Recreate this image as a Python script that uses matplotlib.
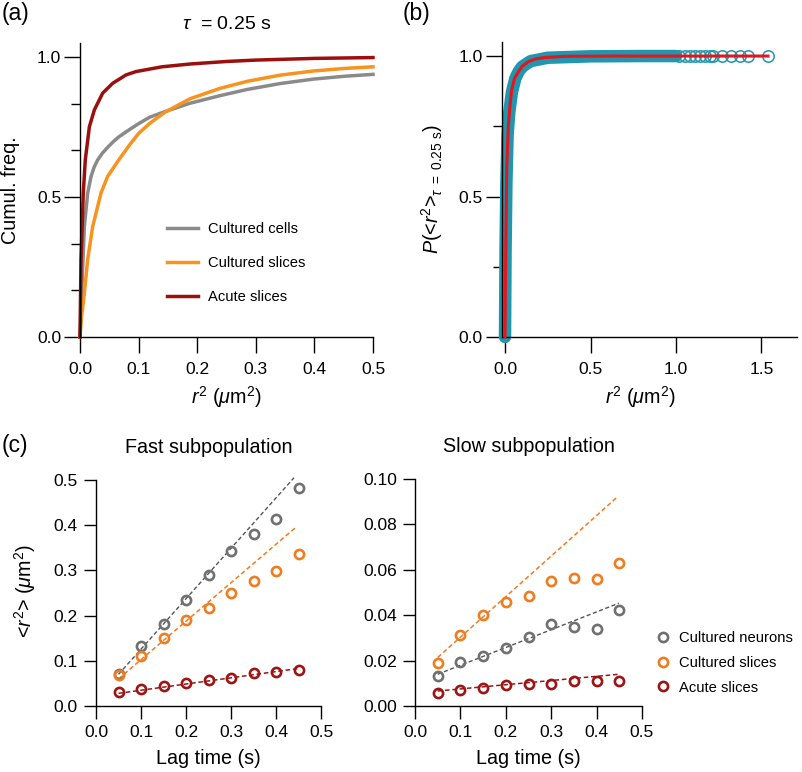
import numpy as np
import matplotlib
matplotlib.use('Agg')
import matplotlib.pyplot as plt
from matplotlib.ticker import MultipleLocator, FixedLocator, FormatStrFormatter
from matplotlib.lines import Line2D

plt.rcParams['font.family'] = ['Liberation Sans', 'DejaVu Sans']
plt.rcParams['mathtext.fontset'] = 'custom'
plt.rcParams['mathtext.rm'] = 'Liberation Sans'
plt.rcParams['mathtext.it'] = 'Liberation Sans:italic'
plt.rcParams['mathtext.bf'] = 'Liberation Sans:bold'
plt.rcParams['axes.linewidth'] = 1.0

# (a) cumulative distributions of r^2 at tau = 0.25 s
r2_cells = [0, 0.0028, 0.0074, 0.0131, 0.0188, 0.024, 0.030, 0.038, 0.047, 0.057, 0.067,
            0.0853, 0.1, 0.119, 0.145, 0.188, 0.239, 0.285, 0.341, 0.398, 0.45, 0.5]
cdf_cells = [0, 0.156, 0.394, 0.514, 0.573, 0.606, 0.632, 0.656, 0.677, 0.698, 0.716,
             0.742, 0.762, 0.785, 0.805, 0.835, 0.862, 0.884, 0.905, 0.921, 0.931, 0.938]
r2_cslices = [0, 0.0025, 0.0074, 0.013, 0.0216, 0.0358, 0.047, 0.066, 0.0853, 0.1, 0.119,
              0.145, 0.188, 0.239, 0.285, 0.341, 0.398, 0.45, 0.5]
cdf_cslices = [0, 0.07, 0.156, 0.275, 0.394, 0.514, 0.573, 0.632, 0.688, 0.727, 0.763,
               0.803, 0.851, 0.888, 0.913, 0.935, 0.95, 0.959, 0.965]
r2_acute = [0, 0.0017, 0.0056, 0.009, 0.016, 0.0245, 0.0387, 0.0557, 0.0785, 0.0956,
            0.14, 0.188, 0.25, 0.3, 0.4, 0.5]
cdf_acute = [0, 0.275, 0.514, 0.632, 0.751, 0.811, 0.871, 0.906, 0.936, 0.948,
             0.965, 0.975, 0.984, 0.989, 0.995, 0.998]

# (b) measured CDF (band), isolated tail points and fit
r2_meas = [0.0, 0.003, 0.008, 0.015, 0.025, 0.04, 0.06, 0.08, 0.1, 0.15, 0.25, 0.5, 0.8, 1.0]
cdf_meas = [0.0, 0.3, 0.55, 0.72, 0.80, 0.87, 0.92, 0.945, 0.962, 0.982, 0.994, 0.999, 1.0, 1.0]
r2_tail = [1.02, 1.05, 1.08, 1.11, 1.14, 1.17, 1.2, 1.216, 1.269, 1.322, 1.374, 1.421, 1.538]
cdf_tail = [1.0, 1.0, 1.0, 1.0, 1.0, 1.0, 1.0, 1.0, 1.0, 1.0, 1.0, 1.0, 1.0]
r2_fit = [0.0, 0.004, 0.01, 0.019, 0.03, 0.039, 0.055, 0.078, 0.1, 0.136, 0.18, 0.234, 0.35, 0.64, 1.538]
cdf_fit = [0.0, 0.3, 0.6, 0.749, 0.83, 0.879, 0.92, 0.944, 0.963, 0.98, 0.99, 0.995, 0.999, 1.0, 1.0]

# (c) MSD vs lag time
lag = [0.05, 0.1, 0.15, 0.2, 0.25, 0.3, 0.35, 0.4, 0.45]
fast_neurons = [0.07, 0.132, 0.182, 0.234, 0.29, 0.343, 0.38, 0.414, 0.482]
fast_cslices = [0.068, 0.110, 0.151, 0.190, 0.216, 0.251, 0.276, 0.299, 0.336]
fast_acute = [0.030, 0.037, 0.044, 0.051, 0.058, 0.062, 0.073, 0.075, 0.079]
slow_neurons = [0.0133, 0.0192, 0.0222, 0.0256, 0.0303, 0.0362, 0.0347, 0.0338, 0.0425]
slow_cslices = [0.0189, 0.0313, 0.0402, 0.0458, 0.0484, 0.0549, 0.0564, 0.0558, 0.0632]
slow_acute = [0.0059, 0.0071, 0.0081, 0.0092, 0.0099, 0.0099, 0.0111, 0.0111, 0.0111]

fit_fast_neurons = ([0.05, 0.44], [0.07, 0.505])
fit_fast_cslices = ([0.05, 0.446], [0.06, 0.397])
fit_fast_acute = ([0.05, 0.45], [0.028, 0.083])
fit_slow_neurons = ([0.05, 0.449], [0.014, 0.0453])
fit_slow_cslices = ([0.05, 0.447], [0.0214, 0.0923])
fit_slow_acute = ([0.05, 0.45], [0.0066, 0.014])

GRAY_A, ORANGE_A, RED_A = '#8a8a8a', '#f7931e', '#9c0f0f'
GRAY_C, ORANGE_C, RED_C = '#707070', '#f07c20', '#9c1414'
TEAL, FITRED = '#2196ad', '#e3161e'

TICK_FS, LABEL_FS, LEG_FS = 12.5, 14.2, 10.6

W, H = 802, 772
fig = plt.figure(figsize=(W / 100, H / 100), dpi=100)


def px_axes(x0, y0, x1, y1):
    return fig.add_axes([x0 / W, 1 - y1 / H, (x1 - x0) / W, (y1 - y0) / H])


def style(ax, major_len=11.5, minor_len=6.5, xpad=6.5, ypad=2):
    for s in ['top', 'right']:
        ax.spines[s].set_visible(False)
    ax.tick_params(which='major', direction='out', length=major_len, width=1.0,
                   labelsize=TICK_FS)
    ax.tick_params(which='minor', direction='out', length=minor_len, width=1.0)
    ax.tick_params(axis='y', pad=ypad)
    ax.tick_params(axis='x', pad=xpad)


# ---- (a)
ax_a = px_axes(80, 43, 373, 337)
ax_a.plot(r2_cells, cdf_cells, color=GRAY_A, lw=2.5, label='Cultured cells', clip_on=False)
ax_a.plot(r2_cslices, cdf_cslices, color=ORANGE_A, lw=2.5, label='Cultured slices', clip_on=False)
ax_a.plot(r2_acute, cdf_acute, color=RED_A, lw=2.5, label='Acute slices', clip_on=False)
ax_a.set_xlim(0, 0.5)
ax_a.set_ylim(0, 1.05)
ax_a.xaxis.set_major_locator(MultipleLocator(0.1))
ax_a.yaxis.set_major_locator(FixedLocator([0.0, 0.5, 1.0]))
ax_a.yaxis.set_minor_locator(FixedLocator([1 / 6, 2 / 6, 4 / 6, 5 / 6]))
ax_a.yaxis.set_major_formatter(FormatStrFormatter('%.1f'))
ax_a.xaxis.set_major_formatter(FormatStrFormatter('%.1f'))
style(ax_a)
ax_a.set_ylabel('Cumul. freq.', fontsize=LABEL_FS)
ax_a.yaxis.set_label_coords(-0.205, 0.5)
ax_a.set_xlabel(r'$r^2$ ($\mu$m$^2$)', fontsize=LABEL_FS, va='top')
ax_a.xaxis.set_label_coords(0.5, -0.16)
ax_a.text(0.5, 1.048, r'$\tau$  = 0.25 s', transform=ax_a.transAxes,
          ha='center', va='baseline', fontsize=14)
ax_a.legend(loc='center left', bbox_to_anchor=(0.297, 0.252), frameon=False,
            fontsize=LEG_FS, handlelength=2.1, handletextpad=0.68, labelspacing=1.35,
            borderpad=0, borderaxespad=0)

# ---- (b)
ax_b = px_axes(501.6, 42, 797.4, 337)
ax_b.plot(r2_meas, cdf_meas, color=TEAL, lw=9, solid_capstyle='round',
          solid_joinstyle='round', zorder=2, clip_on=False)
ax_b.plot(r2_tail, cdf_tail, ls='none', marker='o', ms=8.2, mfc='none', mec=TEAL,
          mew=1.1, zorder=2, clip_on=False)
ax_b.plot(r2_fit, cdf_fit, color=FITRED, lw=2.2, zorder=3, clip_on=False)
ax_b.set_xlim(-0.02, 1.71)
ax_b.set_ylim(0, 1.05)
ax_b.xaxis.set_major_locator(MultipleLocator(0.5))
ax_b.yaxis.set_major_locator(FixedLocator([0.0, 0.5, 1.0]))
ax_b.yaxis.set_minor_locator(FixedLocator([0.25, 0.75]))
ax_b.yaxis.set_major_formatter(FormatStrFormatter('%.1f'))
ax_b.xaxis.set_major_formatter(FormatStrFormatter('%.1f'))
style(ax_b)
ax_b.set_ylabel(r'$P$(<$r^2$>$_{\tau\ =\ 0.25\ \mathrm{s}}$)', fontsize=LABEL_FS)
ax_b.yaxis.set_label_coords(-0.19, 0.5)
ax_b.set_xlabel(r'$r^2$ ($\mu$m$^2$)', fontsize=LABEL_FS, va='top')
ax_b.xaxis.set_label_coords(0.471, -0.16)

# ---- (c)
dash = (0, (3.0, 1.8))


def msd_panel(ax, neurons, cslices, acute, fits, ymax, ystep, title):
    (fxn, fyn), (fxc, fyc), (fxa, fya) = fits
    ax.plot(fxn, fyn, color='#555555', lw=1.0, ls=dash, zorder=2, clip_on=False)
    ax.plot(fxc, fyc, color=ORANGE_C, lw=1.1, ls=dash, zorder=2, clip_on=False)
    ax.plot(fxa, fya, color=RED_C, lw=1.1, ls=dash, zorder=2, clip_on=False)
    kw = dict(ls='none', marker='o', ms=6.6, mfc='none', mew=1.9, zorder=3, clip_on=False)
    ax.plot(lag, neurons, mec=GRAY_C, **kw)
    ax.plot(lag, cslices, mec=ORANGE_C, **kw)
    ax.plot(lag, acute, mec=RED_C, **kw)
    ax.set_xlim(0, 0.5)
    ax.set_ylim(0, ymax)
    ax.xaxis.set_major_locator(MultipleLocator(0.1))
    ax.yaxis.set_major_locator(MultipleLocator(ystep))
    ax.xaxis.set_major_formatter(FormatStrFormatter('%.1f'))
    style(ax, major_len=9, minor_len=5, xpad=5, ypad=4)
    ax.set_xlabel('Lag time (s)', fontsize=LABEL_FS, va='top')
    ax.xaxis.set_label_coords(0.5, -0.19)
    ax.text(0.5, 1.12, title, transform=ax.transAxes, ha='center', va='baseline',
            fontsize=LABEL_FS)


ax_c1 = px_axes(96, 480, 321, 706)
msd_panel(ax_c1, fast_neurons, fast_cslices, fast_acute,
          [fit_fast_neurons, fit_fast_cslices, fit_fast_acute], 0.5, 0.1,
          'Fast subpopulation')
ax_c1.yaxis.set_major_formatter(FormatStrFormatter('%.1f'))
ax_c1.set_ylabel(r'<$r^2$> ($\mu$m$^2$)', fontsize=LABEL_FS)
ax_c1.yaxis.set_label_coords(-0.258, 0.51)

ax_c2 = px_axes(415, 479, 642, 706)
msd_panel(ax_c2, slow_neurons, slow_cslices, slow_acute,
          [fit_slow_neurons, fit_slow_cslices, fit_slow_acute], 0.10, 0.02,
          'Slow subpopulation')
ax_c2.yaxis.set_major_formatter(FormatStrFormatter('%.2f'))

handles = [Line2D([], [], ls='none', marker='o', ms=6.6, mfc='none', mew=1.9, mec=c)
           for c in (GRAY_C, ORANGE_C, RED_C)]
fig.legend(handles, ['Cultured neurons', 'Cultured slices', 'Acute slices'],
           loc='center left', bbox_to_anchor=(655.5 / W, 1 - 663 / H), frameon=False,
           fontsize=LEG_FS, handlelength=1.0, handletextpad=0.58, labelspacing=0.72,
           borderpad=0, borderaxespad=0)

# panel letters
fig.text(2 / W, 1 - 20 / H, '(a)', fontsize=16.5, va='baseline')
fig.text(403 / W, 1 - 20 / H, '(b)', fontsize=16.5, va='baseline')
fig.text(2 / W, 1 - 452 / H, '(c)', fontsize=16.5, va='baseline')

fig.savefig('out.png', dpi=100)
